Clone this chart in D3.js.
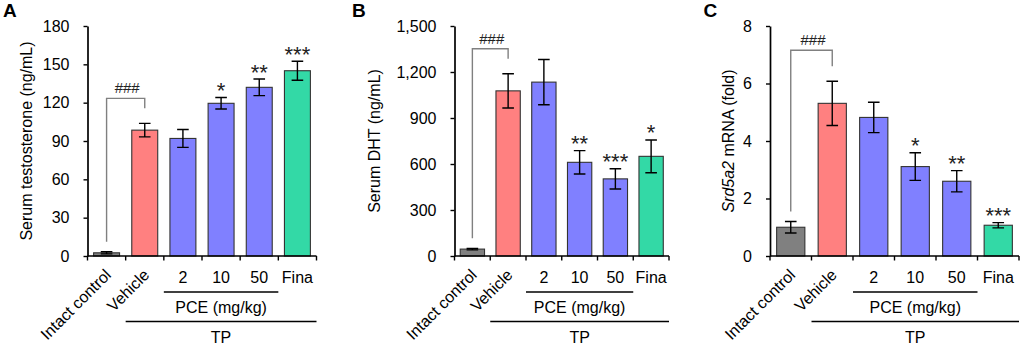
<!DOCTYPE html>
<html>
<head>
<meta charset="utf-8">
<script src="https://cdn.jsdelivr.net/npm/d3@7"></script>
<style>
html, body { margin: 0; padding: 0; background: #fff; }
svg { display: block; font-family: "Liberation Sans", Arial, sans-serif; }
</style>
</head>
<body>
<script>
// ---------- data ----------
const categories = ["Intact control", "Vehicle", "2", "10", "50", "Fina"];
const barColors = ["#808080", "#ff8080", "#8080ff", "#8080ff", "#8080ff", "#33d9a6"];

const testosteroneMean = [2.5, 98.5, 92, 119.5, 132, 145];
const testosteroneErr  = [0.8, 5.3, 7, 4.5, 6.5, 7.4];
const testosteroneSig  = ["", "", "", "*", "**", "***"];
const testosteroneTicks = [0, 30, 60, 90, 120, 150, 180];

const dhtMean = [45, 1077, 1134, 611, 503, 650];
const dhtErr  = [5, 112, 148, 76, 66, 107];
const dhtSig  = ["", "", "", "**", "***", "*"];
const dhtTicks = [0, 300, 600, 900, 1200, 1500];

const srdMean = [1.0, 5.31, 4.82, 3.11, 2.6, 1.07];
const srdErr  = [0.2, 0.77, 0.53, 0.48, 0.37, 0.09];
const srdSig  = ["", "", "", "*", "**", "***"];
const srdTicks = [0, 2, 4, 6, 8];

const groupLabels = ["PCE (mg/kg)", "TP"];
const compareLabel = "###";

// ---------- layout ----------
const W = 1024, H = 344;
const yBottom = 256, yTop = 26;
const svg = d3.select("body").append("svg").attr("width", W).attr("height", H);

const panels = [
  { letter: "A", letterX: 3, x0: 87.5, x1: 316.5, titleX: 31.5, title: [{t: "Serum testosterone (ng/mL)"}],
    mean: testosteroneMean, err: testosteroneErr, sig: testosteroneSig, ticks: testosteroneTicks, fmt: d3.format("d"), lift: 25 },
  { letter: "B", letterX: 352, x0: 454.5, x1: 669, titleX: 380, title: [{t: "Serum DHT (ng/mL)"}],
    mean: dhtMean, err: dhtErr, sig: dhtSig, ticks: dhtTicks, fmt: d3.format(","), lift: 25 },
  { letter: "C", letterX: 703.5, x0: 770, x1: 1019, titleX: 733.5, title: [{t: "Srd5a2", italic: true}, {t: " mRNA (fold)"}],
    mean: srdMean, err: srdErr, sig: srdSig, ticks: srdTicks, fmt: d3.format("d"), lift: 31 }
];

panels.forEach(p => {
  const g = svg.append("g");
  const x = d3.scaleBand().domain(categories).range([p.x0, p.x1]).paddingInner(0.32).paddingOuter(0.16);
  const y = d3.scaleLinear().domain([0, d3.max(p.ticks)]).range([yBottom, yTop]);
  const bw = x.bandwidth();
  const gap = (x.step() - bw) / 2;
  const cx = c => x(c) + bw / 2;
  const boundaries = categories.map(c => x(c) - gap).concat([p.x1]);

  // panel letter
  g.append("text").attr("x", p.letterX).attr("y", 16.5)
    .attr("font-size", 19).attr("font-weight", "bold").attr("fill", "#000").text(p.letter);

  // y axis
  const ya = g.append("g").attr("transform", `translate(${p.x0},0)`)
    .call(d3.axisLeft(y).tickValues(p.ticks).tickFormat(p.fmt).tickSize(4).tickSizeOuter(0).tickPadding(14));
  ya.select(".domain").attr("stroke", "#000").attr("stroke-width", 1.7);
  ya.selectAll(".tick line").attr("stroke", "#000").attr("stroke-width", 1.4);
  ya.selectAll(".tick text").attr("font-size", 16).attr("fill", "#000")
    .attr("font-family", "Liberation Sans, Arial, sans-serif");

  // y title
  const tt = g.append("text")
    .attr("transform", `translate(${p.titleX},${(yBottom + yTop) / 2}) rotate(-90)`)
    .attr("text-anchor", "middle").attr("font-size", 16).attr("fill", "#000");
  p.title.forEach(s => tt.append("tspan").attr("font-style", s.italic ? "italic" : "normal").text(s.t));

  // bars
  g.selectAll("rect.bar").data(categories).join("rect").attr("class", "bar")
    .attr("x", c => x(c)).attr("width", bw)
    .attr("y", (c, i) => y(p.mean[i])).attr("height", (c, i) => yBottom - y(p.mean[i]))
    .attr("fill", (c, i) => barColors[i]).attr("stroke", "#333").attr("stroke-width", 1.1);

  // error bars
  const capW = 5.8;
  categories.forEach((c, i) => {
    const hi = y(p.mean[i] + p.err[i]), lo = y(p.mean[i] - p.err[i]);
    const xc = cx(c);
    g.append("path")
      .attr("d", `M${xc},${lo}V${hi}M${xc - capW},${hi}H${xc + capW}M${xc - capW},${lo}H${xc + capW}`)
      .attr("stroke", "#000").attr("stroke-width", 1.4).attr("fill", "none");
    if (p.sig[i]) {
      g.append("text").attr("x", xc).attr("y", hi + 0.5).attr("text-anchor", "middle")
        .attr("font-size", 22).attr("fill", "#222").text(p.sig[i]);
    }
  });

  // x axis
  g.append("line").attr("x1", p.x0).attr("x2", p.x1).attr("y1", yBottom).attr("y2", yBottom)
    .attr("stroke", "#000").attr("stroke-width", 1.7);
  boundaries.forEach(b => {
    g.append("line").attr("x1", b).attr("x2", b).attr("y1", yBottom).attr("y2", yBottom + 4.5)
      .attr("stroke", "#000").attr("stroke-width", 1.4);
  });

  // category labels
  categories.forEach((c, i) => {
    if (i < 2) {
      g.append("text").attr("transform", `translate(${cx(c) + 5.5},${276}) rotate(-45)`)
        .attr("text-anchor", "end").attr("font-size", 16).attr("fill", "#000").text(c);
    } else {
      g.append("text").attr("x", cx(c)).attr("y", 283).attr("text-anchor", "middle")
        .attr("font-size", 16).attr("fill", "#000").text(c);
    }
  });

  // group lines
  const pceL = boundaries[2], pceR = boundaries[5];
  const tpL = boundaries[1], tpR = boundaries[6];
  g.append("line").attr("x1", pceL).attr("x2", pceR).attr("y1", 292).attr("y2", 292)
    .attr("stroke", "#000").attr("stroke-width", 1.7);
  g.append("text").attr("x", (pceL + pceR) / 2).attr("y", 313).attr("text-anchor", "middle")
    .attr("font-size", 16).attr("fill", "#000").text(groupLabels[0]);
  g.append("line").attr("x1", tpL).attr("x2", tpR).attr("y1", 321.5).attr("y2", 321.5)
    .attr("stroke", "#000").attr("stroke-width", 1.7);
  g.append("text").attr("x", (tpL + tpR) / 2).attr("y", 342.5).attr("text-anchor", "middle")
    .attr("font-size", 16).attr("fill", "#000").text(groupLabels[1]);

  // comparison bracket
  const xa = cx(categories[0]), xb = cx(categories[1]);
  const ya0 = y(p.mean[0] + p.err[0]) - 10;
  const yb0 = y(p.mean[1] + p.err[1]) - 15;
  const top = y(p.mean[1] + p.err[1]) - p.lift;
  g.append("path").attr("d", `M${xa},${ya0}V${top}H${xb}V${yb0}`)
    .attr("fill", "none").attr("stroke", "#808080").attr("stroke-width", 1.4);
  g.append("text").attr("x", (xa + xb) / 2 + 1.5).attr("y", top - 5).attr("text-anchor", "middle")
    .attr("font-size", 15).attr("fill", "#222").text(compareLabel);
});
</script>
</body>
</html>
